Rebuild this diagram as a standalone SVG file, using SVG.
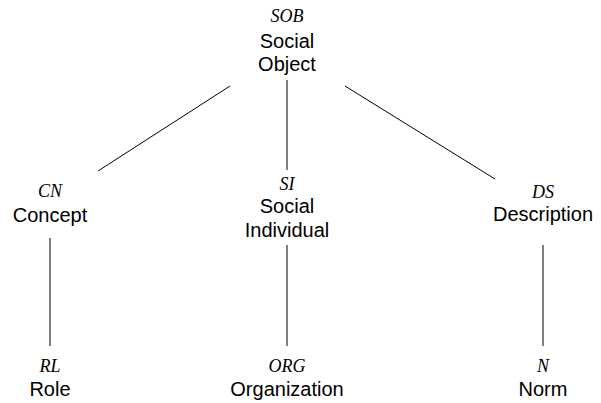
<svg xmlns="http://www.w3.org/2000/svg" width="601" height="403" viewBox="0 0 601 403">
<style>
.ab{font-family:"Liberation Serif",serif;font-style:italic;font-size:18px;text-anchor:middle;fill:#000}
.lb{font-family:"Liberation Sans",Arial,sans-serif;font-size:20px;text-anchor:middle;fill:#000}
.e{stroke:#000;stroke-width:1;fill:none}
</style>
<rect width="601" height="403" fill="#fff"/>
<g id="connectors">
<line class="e" x1="230" y1="86" x2="98" y2="171"/>
<line class="e" x1="287" y1="80" x2="287" y2="170"/>
<line class="e" x1="345" y1="86" x2="495" y2="179"/>
<line class="e" x1="50" y1="238" x2="50" y2="346"/>
<line class="e" x1="287" y1="245" x2="287" y2="346"/>
<line class="e" x1="543" y1="245" x2="543" y2="346"/>
</g>
<g id="SOB"><text class="ab" x="287" y="22">SOB</text><text class="lb" x="287" y="48">Social</text><text class="lb" x="287" y="71">Object</text></g>
<g id="CN"><text class="ab" x="50" y="197">CN</text><text class="lb" x="50" y="222">Concept</text></g>
<g id="SI"><text class="ab" x="287" y="190">SI</text><text class="lb" x="287" y="213">Social</text><text class="lb" x="287" y="237">Individual</text></g>
<g id="DS"><text class="ab" x="543" y="198">DS</text><text class="lb" x="543" y="221">Description</text></g>
<g id="RL"><text class="ab" x="50" y="372">RL</text><text class="lb" x="50" y="396">Role</text></g>
<g id="ORG"><text class="ab" x="287" y="372">ORG</text><text class="lb" x="287" y="396">Organization</text></g>
<g id="N"><text class="ab" x="543" y="372">N</text><text class="lb" x="543" y="396">Norm</text></g>
</svg>
